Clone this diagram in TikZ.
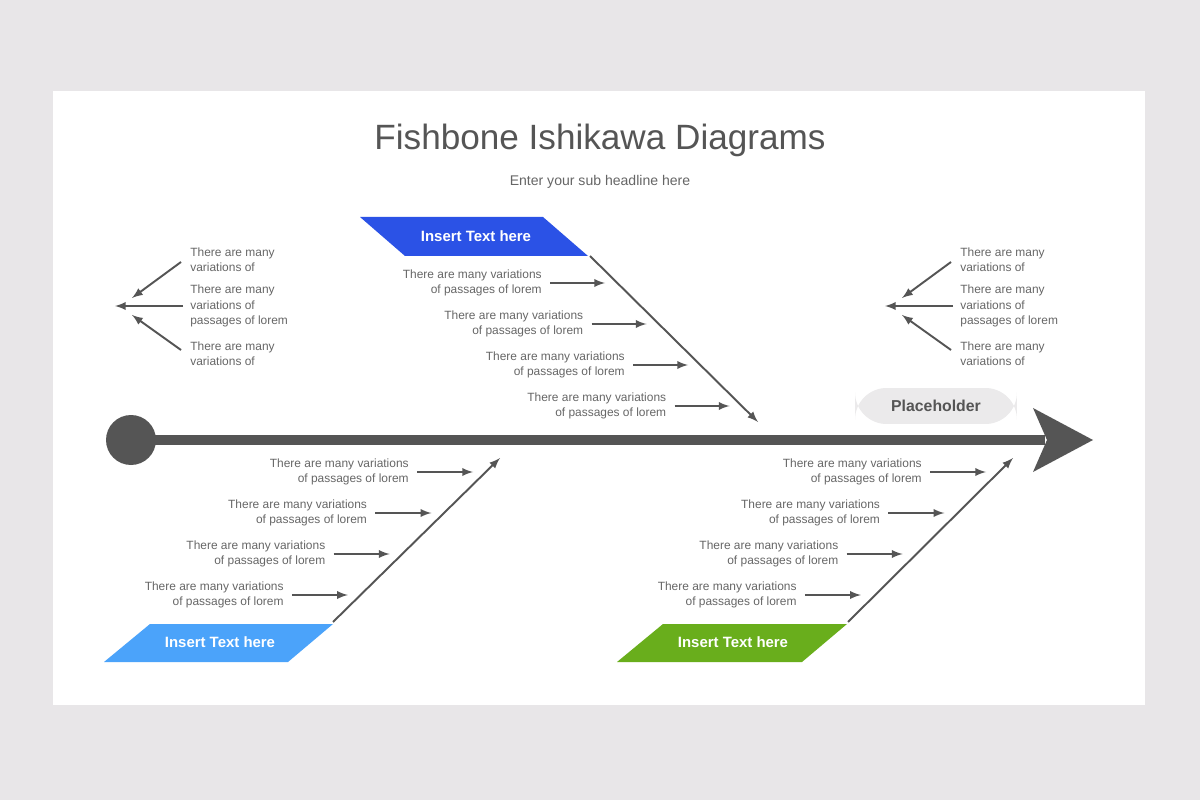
\documentclass[tikz,border=0pt]{standalone}
\usepackage{fontspec}
\setmainfont{Liberation Sans}
\usetikzlibrary{arrows,shapes}
\definecolor{bgray}{HTML}{E8E6E8}
\definecolor{dgray}{HTML}{555555}
\definecolor{tgray}{HTML}{666666}
\definecolor{cblue}{HTML}{2B52E6}
\definecolor{lblue}{HTML}{4BA3FA}
\definecolor{cgreen}{HTML}{69AE1C}
\tikzset{
	item text/.style={font=\fontsize{6.8}{8.6}\selectfont,text=tgray,align=right,inner sep=0pt},
	fan text/.style={font=\fontsize{6.8}{8.6}\selectfont,text=tgray,align=left,inner sep=0pt,anchor=west},
	item arrow/.style={->,>=latex,draw=dgray,line width=1.1pt},
	bone/.style={->,>=latex,draw=dgray,line width=1.1pt},
	head label/.style={font=\bfseries\fontsize{8.5}{10}\selectfont,text=white}
}
\begin{document}
\begin{tikzpicture}[x=0.02cm,y=-0.02cm]
	\fill[bgray] (0,0) rectangle (1200,800);
	\fill[white] (53,91) rectangle (1145,705);
	\node[font=\fontsize{20}{24}\selectfont,text=dgray] (title) at (600,140) {Fishbone Ishikawa Diagrams};
	\node[font=\fontsize{8}{10}\selectfont,text=tgray] (sub) at (600,182) {Enter your sub headline here};
	% spine
	\fill[dgray] (131,440) circle (25);
	\draw[dgray,line width=6pt] (131,440) -- (1045,440);
	\fill[dgray] (1093,440) -- (1033,408) -- (1047,440) -- (1033,472) -- cycle;
	\node[fill=bgray!85,rounded corners=18,minimum width=3.24cm,minimum height=0.72cm,
		font=\bfseries\fontsize{9}{11}\selectfont,text=dgray] (ph) at (936,406) {Placeholder};
	% top bone
	\fill[cblue] (360,217) -- (543,217) -- (588,256) -- (405,256) -- cycle;
	\node[head label] (h1) at (476,236) {Insert Text here};
	\coordinate (b1s) at (590,256);
	\coordinate (b1e) at (758,422);
	\draw[bone] (b1s) -- (b1e);
	\foreach \i in {0,1,2,3}{
		\node[item text,anchor=east] (t1\i) at (542+41.5*\i,283+41*\i) {There are many variations\\of passages of lorem};
		\coordinate (a1\i) at (605+41.5*\i,283+41*\i);
		\draw[item arrow] ([xshift=8*0.02cm]t1\i.east) -- (a1\i);
	}
	% bottom left bone
	\fill[lblue] (104,662) -- (288,662) -- (333,624) -- (150,624) -- cycle;
	\node[head label] (h2) at (220,642) {Insert Text here};
	\coordinate (b2s) at (333,622);
	\coordinate (b2e) at (500,458);
	\draw[bone] (b2s) -- (b2e);
	\foreach \i in {0,1,2,3}{
		\node[item text,anchor=east] (t2\i) at (409-41.7*\i,472+41*\i) {There are many variations\\of passages of lorem};
		\coordinate (a2\i) at (473-41.7*\i,472+41*\i);
		\draw[item arrow] ([xshift=8*0.02cm]t2\i.east) -- (a2\i);
	}
	% bottom right bone
	\fill[cgreen] (617,662) -- (802,662) -- (847,624) -- (663,624) -- cycle;
	\node[head label] (h3) at (733,642) {Insert Text here};
	\coordinate (b3s) at (848,622);
	\coordinate (b3e) at (1013,458);
	\draw[bone] (b3s) -- (b3e);
	\foreach \i in {0,1,2,3}{
		\node[item text,anchor=east] (t3\i) at (922-41.7*\i,472+41*\i) {There are many variations\\of passages of lorem};
		\coordinate (a3\i) at (986-41.7*\i,472+41*\i);
		\draw[item arrow] ([xshift=8*0.02cm]t3\i.east) -- (a3\i);
	}
	% fans
	\foreach \s/\d in {l/0,r/770}{
		\coordinate (tip\s) at (115+\d,306);
		\coordinate (up\s) at (132+\d,298);
		\coordinate (lo\s) at (132+\d,315);
		\node[fan text] (fa\s) at (190+\d,259.5) {There are many\\variations of};
		\node[fan text] (fb\s) at (190+\d,306) {There are many\\variations of\\passages of lorem};
		\node[fan text] (fc\s) at (190+\d,353.5) {There are many\\variations of};
		\coordinate (sa\s) at (181+\d,262);
		\coordinate (sb\s) at (183+\d,306);
		\coordinate (sc\s) at (181+\d,350);
		\draw[item arrow] (sa\s) -- (up\s);
		\draw[item arrow] (sb\s) -- (tip\s);
		\draw[item arrow] (sc\s) -- (lo\s);
	}
\end{tikzpicture}
\end{document}
